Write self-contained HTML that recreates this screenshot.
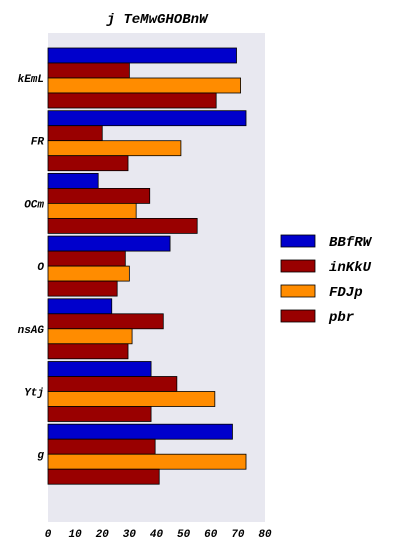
<!DOCTYPE html>
<html><head><meta charset="utf-8"><style>
body{margin:0;background:#fff;}
svg{display:block;font-family:"Liberation Mono",monospace;font-style:italic;font-weight:bold;}
</style></head><body>
<svg id="chart" width="414" height="552">
<text x="157" y="23" font-size="14" text-anchor="middle">j TeMwGHOBnW</text>
<rect x="48" y="33" width="217" height="489" fill="#e8e8f0"/>
<g id="bars"></g><g id="yt"></g><g id="xt"></g><g id="legend"></g>
</svg>
<script>
const categories=["kEmL","FR","OCm","O","nsAG","Ytj","g"];
const seriesNames=["BBfRW","inKkU","FDJp","pbr"];
const sBBfRW=[69.5,73,18.5,45,23.5,38,68];
const sinKkU=[30,20,37.5,28.5,42.5,47.5,39.5];
const sFDJp=[71,49,32.5,30,31,61.5,73];
const spbr=[62,29.5,55,25.5,29.5,38,41];
const xTicks=[0,10,20,30,40,50,60,70,80];
const colors=["#0000cc","#990000","#ff8c00","#990000"];
const series=[sBBfRW,sinKkU,sFDJp,spbr];
const NS="http://www.w3.org/2000/svg";
const x=v=>48+v*217/80;
const gy=i=>78+i*62.7;
const bh=15;
function mk(t,a,p){const e=document.createElementNS(NS,t);for(const k in a)e.setAttribute(k,a[k]);p.appendChild(e);return e;}
const bars=document.getElementById('bars');
categories.forEach((c,i)=>{
 series.forEach((s,j)=>{
  const r=mk('rect',{x:x(0),y:gy(i)-30+j*bh,width:x(s[i])-x(0),height:bh,fill:colors[j],stroke:'#000','stroke-width':0.8},bars);
  
  
 });
 const t=mk('text',{x:44,y:gy(i)+4,'font-size':11,'text-anchor':'end'},document.getElementById('yt'));
 t.textContent=c;
 
 
});
xTicks.forEach(v=>{
 const t=mk('text',{x:x(v),y:537,'font-size':11,'text-anchor':'middle'},document.getElementById('xt'));
 t.textContent=v;
 
 
});
const lg=document.getElementById('legend');
seriesNames.forEach((n,j)=>{
 const y=235+j*25;
 const r=mk('rect',{x:281,y:y,width:34,height:12,fill:colors[j],stroke:'#000','stroke-width':0.8},lg);
 
 
 const t=mk('text',{x:329,y:y+11,'font-size':14},lg);
 t.textContent=n;
 
 
});
</script>
</body></html>
